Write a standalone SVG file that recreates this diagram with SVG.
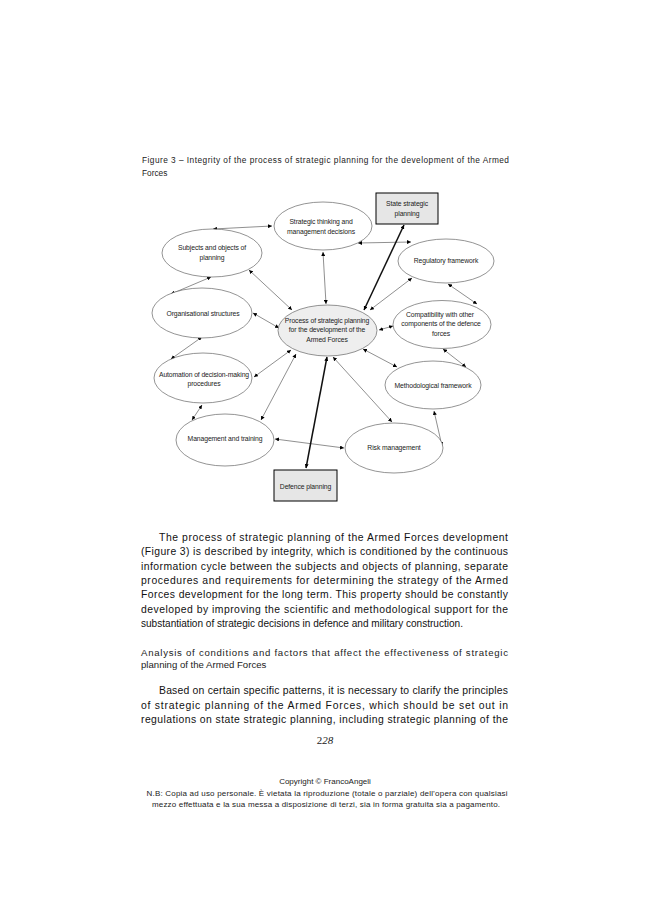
<svg xmlns="http://www.w3.org/2000/svg" width="650" height="920" viewBox="0 0 650 920">
<defs>
<marker id="ah" viewBox="0 0 10 10" refX="10" refY="5" markerWidth="4" markerHeight="4" markerUnits="userSpaceOnUse" orient="auto-start-reverse">
<path d="M0,0 L10,5 L0,10 z" fill="#000"/>
</marker>
<style>
.n{fill:#fff;stroke:#666;stroke-width:0.7}
.c{fill:#eeeeee;stroke:#666;stroke-width:0.7}
.b{fill:#e6e6e6;stroke:#000;stroke-width:1}
.t{font-family:"Liberation Sans",Arial,sans-serif;font-size:6.8px;fill:#222;text-anchor:middle;letter-spacing:-0.1px}
.l{fill:none;stroke:#444;stroke-width:0.6;marker-start:url(#ah);marker-end:url(#ah)}
.k{fill:none;stroke:#111;stroke-width:1.5;marker-start:url(#ah);marker-end:url(#ah)}
.p{font-family:"Liberation Sans",Arial,sans-serif;font-size:10.4px;fill:#111}
.h{font-family:"Liberation Sans",Arial,sans-serif;font-size:9.6px;fill:#222}
.cap{font-family:"Liberation Sans",Arial,sans-serif;font-size:8.3px;fill:#222}
.f{font-family:"Liberation Sans",Arial,sans-serif;font-size:8px;fill:#222;text-anchor:middle}
</style>
</defs>
<rect width="650" height="920" fill="#fff"/>

<text class="cap" x="142" y="163" textLength="367" lengthAdjust="spacing">Figure 3 – Integrity of the process of strategic planning for the development of the Armed</text>
<text class="cap" x="142" y="176">Forces</text>

<g id="connectors">
<path class="l" d="M213,229 L272,226"/>
<path class="l" d="M211,277 L171,294"/>
<path class="l" d="M249,270 L292,310"/>
<path class="l" d="M253,313 L279,328"/>
<path class="l" d="M323,252 L326,304"/>
<path class="l" d="M358,243 L411,242"/>
<path class="k" d="M404,225 L364,310"/>
<path class="l" d="M412,278 L370,310"/>
<path class="l" d="M448,284 L477,304"/>
<path class="l" d="M379,330 L393,326"/>
<path class="l" d="M443,349 L466,367"/>
<path class="l" d="M363,349 L397,367"/>
<path class="l" d="M333,357 L392,422"/>
<path class="l" d="M434,411 L442,446"/>
<path class="l" d="M275,439 L344,448"/>
<path class="k" d="M306,468 L327,357"/>
<path class="l" d="M254,377 L291,350"/>
<path class="l" d="M261,420 L296,354"/>
<path class="l" d="M202,337 L171,359"/>
<path class="l" d="M202,405 L192,420"/>
</g>

<g id="strategic-thinking">
<ellipse class="n" cx="323" cy="226" rx="49" ry="24"/>
<text class="t" x="321" y="224">Strategic thinking and</text>
<text class="t" x="321" y="233.5">management decisions</text>
</g>
<g id="state-strategic">
<rect class="b" x="376" y="193" width="62" height="31"/>
<text class="t" x="407" y="205.5">State strategic</text>
<text class="t" x="407" y="215.5">planning</text>
</g>
<g id="subjects">
<ellipse class="n" cx="212" cy="253" rx="50" ry="24"/>
<text class="t" x="212" y="249.5">Subjects and objects of</text>
<text class="t" x="212" y="259.5">planning</text>
</g>
<g id="regulatory">
<ellipse class="n" cx="446" cy="261" rx="48" ry="22"/>
<text class="t" x="446" y="262.5">Regulatory framework</text>
</g>
<g id="organisational">
<ellipse class="n" cx="202" cy="313" rx="50" ry="25"/>
<text class="t" x="203" y="315.5">Organisational structures</text>
</g>
<g id="process">
<ellipse class="c" cx="327.5" cy="330.5" rx="49.5" ry="25.5"/>
<text class="t" x="327" y="322.5">Process of strategic planning</text>
<text class="t" x="327" y="332">for the development of the</text>
<text class="t" x="327" y="341.5">Armed Forces</text>
</g>
<g id="compatibility">
<ellipse class="n" cx="442" cy="324.5" rx="49" ry="24"/>
<text class="t" x="440" y="316.5">Compatibility with other</text>
<text class="t" x="441" y="326">components of the defence</text>
<text class="t" x="441" y="335.5">forces</text>
</g>
<g id="automation">
<ellipse class="n" cx="203" cy="378" rx="49" ry="25"/>
<text class="t" x="204" y="376.5">Automation of decision-making</text>
<text class="t" x="204" y="386">procedures</text>
</g>
<g id="methodological">
<ellipse class="n" cx="433" cy="385" rx="48" ry="24"/>
<text class="t" x="433" y="387.5">Methodological framework</text>
</g>
<g id="management">
<ellipse class="n" cx="225" cy="440" rx="49" ry="26"/>
<text class="t" x="225" y="440.5">Management and training</text>
</g>
<g id="risk">
<ellipse class="n" cx="394" cy="448" rx="49" ry="25"/>
<text class="t" x="394" y="449.5">Risk management</text>
</g>
<g id="defence">
<rect class="b" x="274" y="470" width="63" height="31"/>
<text class="t" x="305.5" y="488.5">Defence planning</text>
</g>

<text class="p" x="159" y="541" textLength="349" lengthAdjust="spacing">The process of strategic planning of the Armed Forces development</text>
<text class="p" x="141" y="555.3" textLength="367" lengthAdjust="spacing">(Figure 3) is described by integrity, which is conditioned by the continuous</text>
<text class="p" x="141" y="569.6" textLength="367" lengthAdjust="spacing">information cycle between the subjects and objects of planning, separate</text>
<text class="p" x="141" y="583.9" textLength="367" lengthAdjust="spacing">procedures and requirements for determining the strategy of the Armed</text>
<text class="p" x="141" y="598.2" textLength="367" lengthAdjust="spacing">Forces development for the long term. This property should be constantly</text>
<text class="p" x="141" y="612.5" textLength="367" lengthAdjust="spacing">developed by improving the scientific and methodological support for the</text>
<text class="p" x="141" y="626.8" textLength="322" lengthAdjust="spacingAndGlyphs">substantiation of strategic decisions in defence and military construction.</text>

<text class="h" x="141" y="655.5" textLength="367" lengthAdjust="spacing">Analysis of conditions and factors that affect the effectiveness of strategic</text>
<text class="h" x="141" y="668">planning of the Armed Forces</text>

<text class="p" x="159" y="694" textLength="349" lengthAdjust="spacing">Based on certain specific patterns, it is necessary to clarify the principles</text>
<text class="p" x="141" y="708.5" textLength="367" lengthAdjust="spacing">of strategic planning of the Armed Forces, which should be set out in</text>
<text class="p" x="141" y="723" textLength="367" lengthAdjust="spacing">regulations on state strategic planning, including strategic planning of the</text>

<text x="325" y="744" font-family="'Liberation Serif','Times New Roman',serif" font-size="11" fill="#222" text-anchor="middle">2<tspan font-style="italic">28</tspan></text>

<text class="f" x="325" y="784">Copyright © FrancoAngeli</text>
<text class="f" x="327" y="795.5" textLength="361" lengthAdjust="spacing">N.B: Copia ad uso personale. È vietata la riproduzione (totale o parziale) dell’opera con qualsiasi</text>
<text class="f" x="326" y="807" textLength="348" lengthAdjust="spacing">mezzo effettuata e la sua messa a disposizione di terzi, sia in forma gratuita sia a pagamento.</text>
</svg>
